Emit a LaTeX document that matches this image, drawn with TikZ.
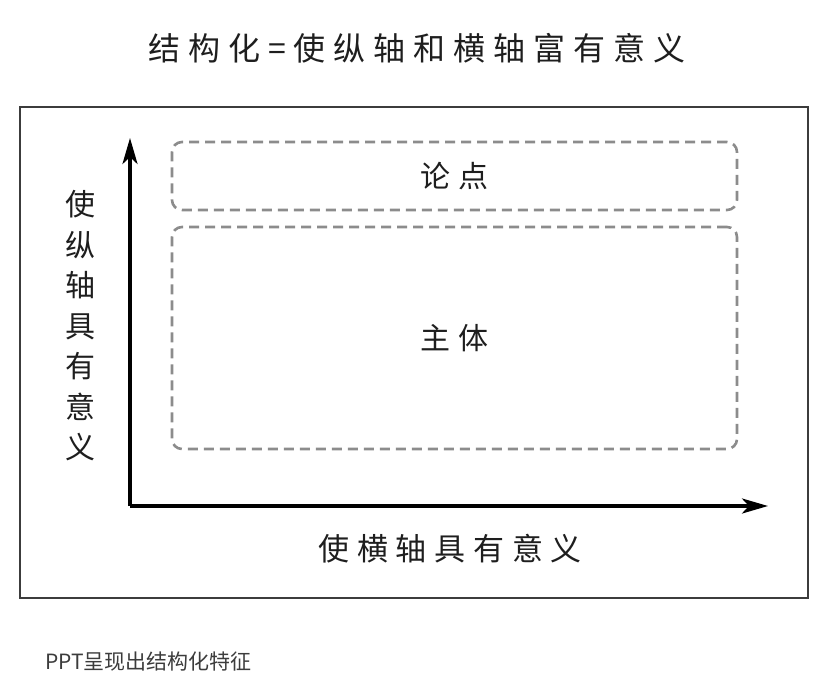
\documentclass[tikz,border=0pt]{standalone}
\usepackage{fontspec}
\setmainfont{Noto Sans CJK SC}
\newfontfamily\cjk{Noto Sans CJK SC}
\newfontfamily\cjkwide[LetterSpace=25]{Noto Sans CJK SC}
\usetikzlibrary{arrows.meta}
\definecolor{ink}{RGB}{30,30,30}
\definecolor{dashgray}{RGB}{140,140,140}
\definecolor{capgray}{RGB}{60,60,60}

\begin{document}
\begin{tikzpicture}[x=1pt,y=-1pt,text=ink]

    % `region' is used for the two dashed boxes.
    % `axis' is used for the two arrows.
    % `label' is used for the axis texts.
    \tikzstyle{region} = [draw=dashgray,line width=2.6pt,dash pattern=on 10pt off 6pt,
      rounded corners=10pt,minimum width=565pt,inner sep=0pt,font=\cjkwide\fontsize{30}{30}\selectfont]
    \tikzstyle{axis} = [line width=3.6pt,-{Stealth[length=26pt,width=15pt,inset=7pt]}]
    \tikzstyle{label} = [font=\cjkwide\fontsize{31}{31}\selectfont,inner sep=0pt]
    %
    \useasboundingbox (0,0) rectangle (819,685);

    \node[label,font=\cjkwide\fontsize{32}{32}\selectfont] (title) at (417,48) {结构化=使纵轴和横轴富有意义};
    \draw[draw=capgray,line width=2.4pt] (20,107) rectangle (808,598);
    \node[capgray,anchor=west,inner sep=0pt,font=\cjk\fontsize{21}{21}\selectfont] (caption) at (45,662) {PPT呈现出结构化特征};

    % Axes.
    \coordinate (origin) at (130,506);
    \coordinate (yend) at (130,138);
    \coordinate (xend) at (768,506);
    \draw[axis] (origin) -- (yend);
    \draw[axis] (origin) -- (xend);

    \node[label,align=center,font=\cjk\fontsize{30}{40.5}\selectfont] (ylabel) at (80,326)
      {使\\纵\\轴\\具\\有\\意\\义};
    \node[label] (xlabel) at (450,549) {使横轴具有意义};

    % Dashed regions.
    \node[region,minimum height=68pt] (thesis) at (454.5,176) {论点};
    \node[region,minimum height=222pt] (body) at (454.5,338) {主体};
    %
\end{tikzpicture}
\end{document}
